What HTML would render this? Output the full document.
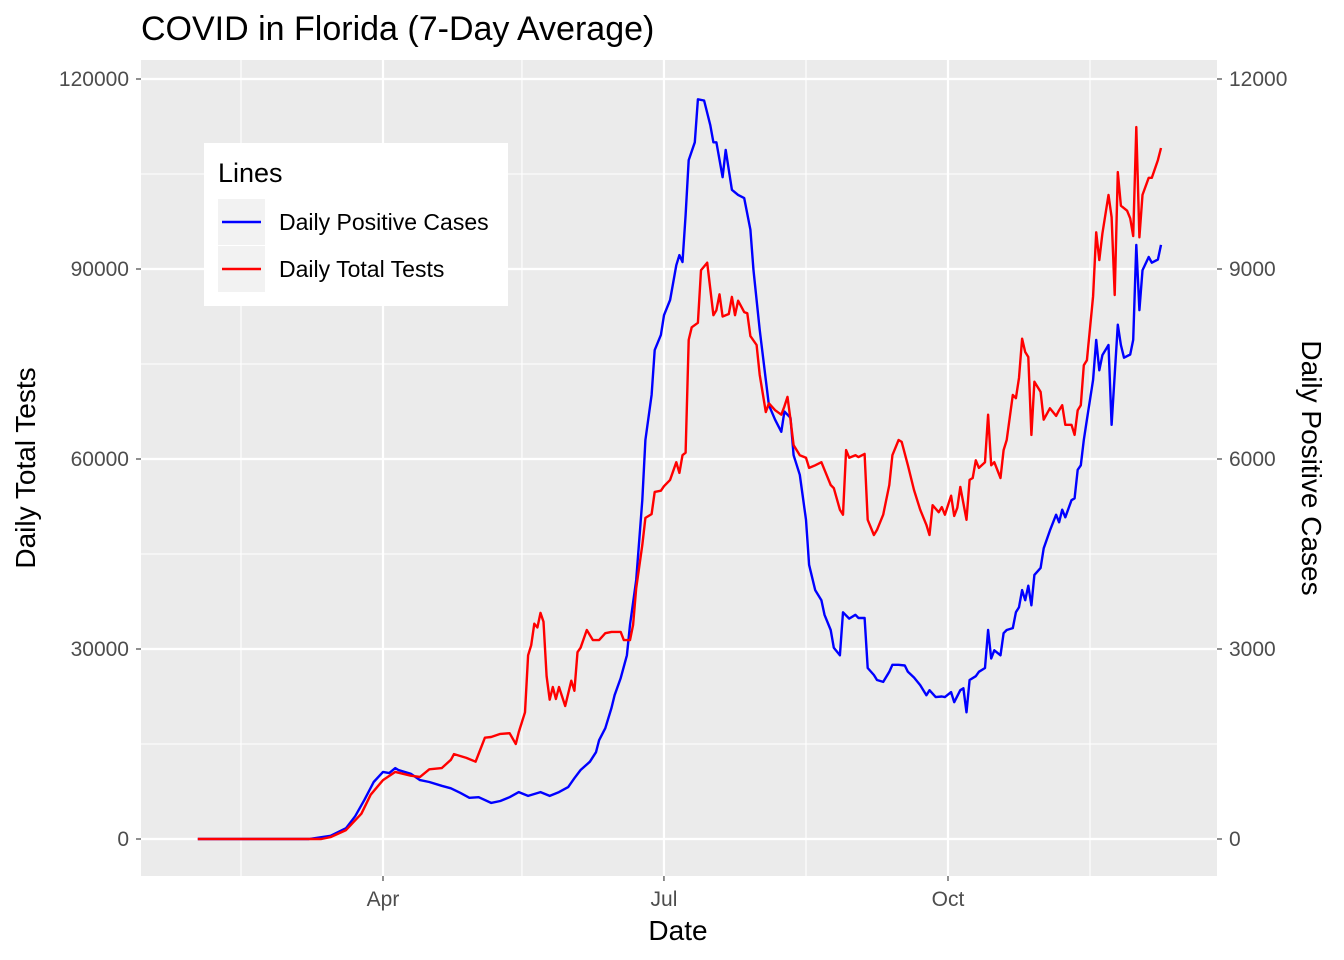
<!DOCTYPE html>
<html>
<head>
<meta charset="utf-8">
<style>
  html, body { margin: 0; padding: 0; background: #ffffff; }
  svg { display: block; font-family: "Liberation Sans", Arial, sans-serif; }
</style>
</head>
<body>
<svg id="chart" width="1344" height="960" viewBox="0 0 1344 960" xmlns="http://www.w3.org/2000/svg">
  <rect x="0" y="0" width="1344" height="960" fill="#ffffff"/>
  <text x="141" y="40" font-size="34" fill="#000">COVID in Florida (7-Day Average)</text>
  <rect x="141" y="60" width="1076" height="816" fill="#EBEBEB"/>
  <g id="grid"></g>
  <g id="series"></g>
  <g id="axes"></g>
  <text x="678" y="940" font-size="28" text-anchor="middle" fill="#000">Date</text>
  <text transform="translate(35,468) rotate(-90)" font-size="28" text-anchor="middle" fill="#000">Daily Total Tests</text>
  <text transform="translate(1302,468) rotate(90)" font-size="28" text-anchor="middle" fill="#000">Daily Positive Cases</text>

  <g>
    <rect x="204" y="143" width="304" height="163" fill="#ffffff"/>
    <text x="218" y="182" font-size="27" fill="#000">Lines</text>
    <g>
      <rect x="218" y="199" width="47" height="46" fill="#F2F2F2"/>
      <line x1="222" y1="222" x2="261" y2="222" stroke="#0000FF" stroke-width="2.4"/>
      <text x="279" y="230" font-size="23" fill="#000">Daily Positive Cases</text>
    </g>
    <g>
      <rect x="218" y="246" width="47" height="46" fill="#F2F2F2"/>
      <line x1="222" y1="269" x2="261" y2="269" stroke="#FF0000" stroke-width="2.4"/>
      <text x="279" y="277" font-size="23" fill="#000">Daily Total Tests</text>
    </g>
  </g>
</svg>
<script>
// Day-of-year (0-based, 2020; Apr 1 = 91) for tests series
const testDays = [31,71,74,79,84,87,91,95,100,103,106,110,113,114,118,121,124,126,129,132,134,135,137,138,139,140,141,142,143,144,145,146,147,148,150,152,153,154,155,157,159,161,163,165,168,169,171,172,173,175,176,178,179,181,182,184,186,187,188,189,190,191,193,194,196,198,199,200,201,203,204,205,206,208,209,210,212,213,215,216,218,220,221,222,223,224,226,228,229,231,233,234,236,237,239,240,241,242,244,245,247,248,250,251,253,255,256,258,259,261,263,265,267,268,269,271,272,273,275,276,277,278,280,281,282,283,284,286,287,288,289,291,292,293,295,296,297,298,299,300,301,302,304,305,307,309,310,311,312,314,315,316,317,318,319,321,322,323,324,326,327,328,329,330,332,333,334,335,336,337,339,340,342,343];
// Daily total tests (thousands)
const testValues = [0,0,0.3,1.4,4,7,9.3,10.6,10,9.8,11,11.2,12.5,13.4,12.8,12.2,16,16.1,16.6,16.7,15,16.9,20,29,30.6,34,33.4,35.7,34.3,25.7,22,24,22.1,24,21,25,23.4,29.5,30.2,33,31.4,31.4,32.5,32.7,32.7,31.4,31.4,33.8,39.6,46.4,50.7,51.3,54.8,55,55.7,56.7,59.5,57.8,60.6,61,78.8,80.8,81.5,89.8,91,82.7,83.5,86,82.5,82.9,85.6,82.7,85,83.2,83,79.4,78,73.3,67.4,68.8,67.7,67,68.3,69.8,66.2,62.2,60.6,60.2,58.6,59,59.5,58.3,55.9,55.4,52,51.2,61.4,60.2,60.6,60.3,60.8,50.4,48,48.8,51.2,55.9,60.6,63,62.7,59,55.1,52,49.6,48,52.7,51.6,52.4,51.2,54.2,51,52.3,55.6,50.4,56.7,57,59.8,58.6,59.5,67,59,59.5,57,61.4,63,70.1,69.6,72.8,79,76.9,76.1,63.8,72.2,70.6,66.2,68,66.8,67.7,68.5,65.4,65.4,63.8,67.7,68.5,74.8,75.6,85.7,95.8,91.4,95.6,101.7,98.2,85.9,105.3,100,99.2,98,95.2,112.4,95,101.7,104.4,104.4,107.2,109.1];
// Day-of-year for cases series
const caseDays = [31,67,74,79,82,85,88,91,93,95,96,100,103,106,110,113,116,119,122,126,129,132,135,138,142,145,148,151,153,155,158,160,161,163,165,166,168,170,171,173,175,176,178,179,181,182,184,186,187,188,189,190,192,193,195,197,198,199,201,202,204,206,208,210,211,213,215,216,218,220,221,223,224,226,228,229,231,233,234,236,237,239,240,242,244,245,247,248,250,251,253,255,256,258,260,261,263,265,267,268,270,272,273,275,276,278,279,280,281,283,284,286,287,288,289,291,292,293,295,296,297,298,299,300,301,302,304,305,307,309,310,311,312,314,315,316,317,318,319,321,322,323,324,326,327,329,330,331,333,334,335,336,337,339,340,342,343];
// Daily positive cases
const caseValues = [0,0,50,170,360,620,900,1060,1040,1120,1090,1030,930,900,840,800,730,650,660,570,600,660,740,680,740,680,740,820,960,1090,1220,1370,1560,1750,2070,2270,2540,2900,3380,4090,5350,6300,7010,7720,7960,8270,8510,9060,9220,9110,9850,10720,11000,11680,11660,11270,11000,11000,10450,10880,10250,10170,10120,9620,8980,8040,7250,6850,6620,6430,6750,6650,6060,5750,5040,4330,3930,3770,3540,3300,3020,2900,3580,3480,3540,3490,3490,2700,2590,2510,2480,2640,2750,2750,2740,2640,2550,2430,2270,2350,2240,2250,2240,2320,2160,2350,2380,2000,2510,2570,2640,2700,3300,2850,2980,2900,3250,3300,3330,3580,3660,3930,3770,4000,3690,4170,4280,4590,4870,5120,5000,5200,5080,5350,5380,5830,5900,6300,6620,7250,7880,7400,7640,7800,6540,8120,7800,7600,7650,7880,9380,8350,8980,9190,9100,9150,9380];
// Axis ticks
const leftTicks = [0,30000,60000,90000,120000];
const leftTickLabels = ["0","30000","60000","90000","120000"];
const rightTicks = [0,3000,6000,9000,12000];
const rightTickLabels = ["0","3000","6000","9000","12000"];
const xTicks = [91,182,274];
const xTickLabels = ["Apr","Jul","Oct"];
const xMinor = [45,136,228,320];

const NS = "http://www.w3.org/2000/svg";
function xScale(d){ return 383 + (d - 91) * (948 - 383) / 183; }
function yLeft(v){ return 839 - v * (760 / 120000); }
function yRight(v){ return 839 - v * (760 / 12000); }
function mk(tag, attrs, parent){
  const el = document.createElementNS(NS, tag);
  for (const k in attrs) el.setAttribute(k, attrs[k]);
  parent.appendChild(el);
  return el;
}
const grid = document.getElementById('grid');
const axes = document.getElementById('axes');
const series = document.getElementById('series');

for (let i = 0; i < leftTicks.length - 1; i++) {
  const y = yLeft((leftTicks[i] + leftTicks[i+1]) / 2);
  const l = mk('line', {x1:141, x2:1217, y1:y, y2:y, stroke:'#fff', 'stroke-width':1.1}, grid);
  
  
}
xMinor.forEach(d => {
  const x = xScale(d);
  const l = mk('line', {x1:x, x2:x, y1:60, y2:876, stroke:'#fff', 'stroke-width':1.1}, grid);
  
  
});
leftTicks.forEach((v, i) => {
  const y = yLeft(v);
  const l = mk('line', {x1:141, x2:1217, y1:y, y2:y, stroke:'#fff', 'stroke-width':2.2}, grid);
  
  
  const t = mk('line', {x1:136, x2:141, y1:y, y2:y, stroke:'#333', 'stroke-width':1.1}, axes);
  
  
  const tx = mk('text', {x:129, y:y + 7, 'font-size':21, fill:'#4D4D4D', 'text-anchor':'end'}, axes);
  tx.textContent = leftTickLabels[i];
  
  
});
rightTicks.forEach((v, i) => {
  const y = yRight(v);
  const t = mk('line', {x1:1217, x2:1222, y1:y, y2:y, stroke:'#333', 'stroke-width':1.1}, axes);
  
  
  const tx = mk('text', {x:1229, y:y + 7, 'font-size':21, fill:'#4D4D4D', 'text-anchor':'start'}, axes);
  tx.textContent = rightTickLabels[i];
  
  
});
xTicks.forEach((d, i) => {
  const x = xScale(d);
  const l = mk('line', {x1:x, x2:x, y1:60, y2:876, stroke:'#fff', 'stroke-width':2.2}, grid);
  
  
  const t = mk('line', {x1:x, x2:x, y1:876, y2:881, stroke:'#333', 'stroke-width':1.1}, axes);
  
  
  const tx = mk('text', {x:x, y:906, 'font-size':21, fill:'#4D4D4D', 'text-anchor':'middle'}, axes);
  tx.textContent = xTickLabels[i];
  
  
});

const casePts = caseDays.map((d, i) => xScale(d).toFixed(1) + ',' + yRight(caseValues[i]).toFixed(1)).join(' ');
const caseLine = mk('polyline', {points:casePts, fill:'none', stroke:'#0000FF', 'stroke-width':2.4, 'stroke-linejoin':'round'}, series);



const testPts = testDays.map((d, i) => xScale(d).toFixed(1) + ',' + yLeft(testValues[i] * 1000).toFixed(1)).join(' ');
const testLine = mk('polyline', {points:testPts, fill:'none', stroke:'#FF0000', 'stroke-width':2.4, 'stroke-linejoin':'round'}, series);


</script>
</body>
</html>
